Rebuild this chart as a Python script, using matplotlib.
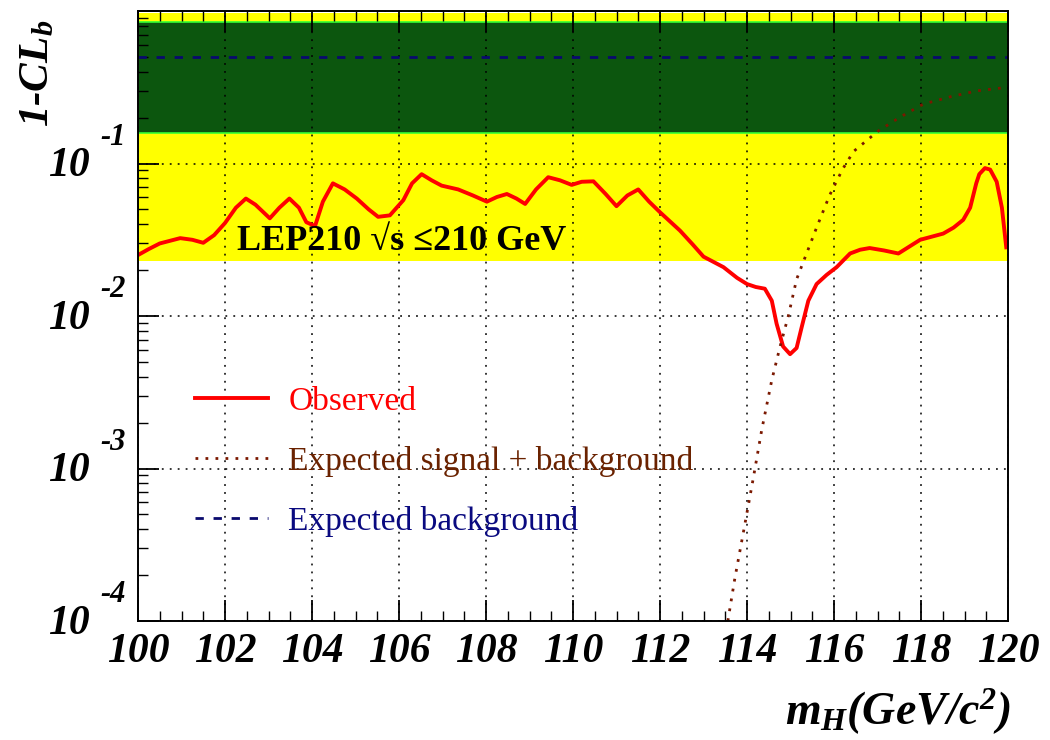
import numpy as np
import matplotlib
matplotlib.use("Agg")
import matplotlib.pyplot as plt
from matplotlib.ticker import MultipleLocator, LogLocator, NullFormatter

plt.rcParams['font.family'] = ['Liberation Serif', 'DejaVu Serif']
plt.rcParams['mathtext.fontset'] = 'custom'
plt.rcParams['mathtext.rm'] = 'Liberation Serif:italic:bold'
plt.rcParams['mathtext.it'] = 'Liberation Serif:italic:bold'
plt.rcParams['mathtext.bf'] = 'Liberation Serif:italic:bold'

# observed 1-CLb
obs_mass = [100.0, 100.25, 100.5, 100.97, 101.25, 101.5, 101.75, 102.0, 102.25, 102.48,
            102.7, 103.03, 103.25, 103.48, 103.7, 103.87, 104.07, 104.25, 104.48, 104.75,
            105.03, 105.3, 105.52, 105.79, 106.1, 106.3, 106.52, 106.75, 106.98, 107.36,
            107.7, 108.02, 108.25, 108.48, 108.7, 108.9, 109.15, 109.43, 109.7, 109.97,
            110.2, 110.47, 110.75, 111.0, 111.25, 111.5, 111.75, 112.0, 112.46, 112.75,
            113.0, 113.46, 113.77, 114.0, 114.2, 114.41, 114.57, 114.68, 114.83, 114.99,
            115.14, 115.26, 115.41, 115.6, 115.83, 116.06, 116.37, 116.6, 116.82, 117.15,
            117.48, 117.98, 118.51, 118.75, 118.97, 119.13, 119.27, 119.34, 119.47, 119.59,
            119.74, 119.86, 119.96]
obs_clb = [0.0251, 0.0275, 0.0299, 0.0324, 0.0316, 0.0302, 0.0339, 0.0407, 0.0513, 0.0589,
           0.0537, 0.0437, 0.0513, 0.0589, 0.0513, 0.0412, 0.0389, 0.0562, 0.0741, 0.0676,
           0.0589, 0.0501, 0.0447, 0.0457, 0.0575, 0.0741, 0.0851, 0.0776, 0.0716, 0.0676,
           0.0617, 0.0562, 0.0603, 0.0631, 0.0589, 0.0543, 0.0676, 0.0813, 0.0776, 0.0724,
           0.0759, 0.0764, 0.0631, 0.0525, 0.0617, 0.0676, 0.0562, 0.0479, 0.0363, 0.0295,
           0.0245, 0.0209, 0.0178, 0.0162, 0.0155, 0.0151, 0.0126, 0.00891, 0.00631, 0.00562,
           0.00617, 0.00851, 0.0126, 0.0162, 0.0186, 0.0209, 0.0257, 0.0272, 0.0279, 0.0269,
           0.0257, 0.0316, 0.0347, 0.0380, 0.0427, 0.0513, 0.0741, 0.0851, 0.0933, 0.0912,
           0.0759, 0.0513, 0.0282]

# expected signal + background
sb_mass = [113.56, 113.72, 113.93, 114.14, 114.34, 114.57, 114.76, 114.95, 115.14, 115.6,
           115.9, 116.2, 116.45, 117.0, 117.5, 118.05, 118.7, 119.3, 120.0]
sb_clb = [1.0e-4, 1.9e-4, 4.0e-4, 8.5e-4, 1.8e-3, 3.8e-3, 6.3e-3, 0.0100, 0.0174, 0.038,
          0.062, 0.092, 0.12, 0.162, 0.20, 0.245, 0.275, 0.30, 0.316]

# expected background
bkg_mass = [100.0, 120.0]
bkg_clb = [0.5, 0.5]

band_1sigma = [0.1587, 0.8413]
band_2sigma = [0.0228, 0.9772]

decades = [-4, -3, -2, -1]

fig = plt.figure(figsize=(10.5, 7.4), dpi=100)
ax = fig.add_axes([138/1050, 1-621/740, 870/1050, 610/740])

ax.axhspan(band_2sigma[0], band_2sigma[1], color='#ffff00', lw=0, zorder=0)
ax.axhspan(band_1sigma[0], band_1sigma[1], facecolor='#0c560e', edgecolor='#33ff33', lw=1.2, zorder=0.5)

ax.plot(obs_mass, obs_clb, color='#ff0000', lw=2.8, solid_joinstyle='round', label='Observed', zorder=3)
ax.plot(sb_mass, sb_clb, color='#7a1800', lw=2.0, ls=(0, (1, 2.6)), label='Expected signal + background', zorder=3)
ax.plot(bkg_mass, bkg_clb, color='#0a0a6e', lw=2.0, ls=(0, (3, 3.5)), label='Expected background', zorder=3)

ax.set_yscale('log')
ax.set_xlim(100, 120)
ax.set_ylim(1e-4, 1)

ax.xaxis.set_major_locator(MultipleLocator(2))
ax.xaxis.set_minor_locator(MultipleLocator(0.5))
ax.yaxis.set_major_locator(LogLocator(base=10, numticks=10))
ax.yaxis.set_minor_locator(LogLocator(base=10, subs=np.arange(2, 10), numticks=20))
ax.yaxis.set_major_formatter(NullFormatter())
ax.yaxis.set_minor_formatter(NullFormatter())

ax.tick_params(which='major', direction='in', length=15, width=1.3, top=True, right=False, color='k')
ax.tick_params(which='minor', direction='in', length=7.5, width=1.0, top=True, right=False, color='k')
ax.tick_params(axis='x', pad=9, labelsize=30)
for lab in ax.get_xticklabels():
    lab.set_fontweight('bold')
    lab.set_fontstyle('italic')

ax.grid(True, which='major', color='k', lw=1.1, ls=(0, (1.2, 4)))
for s in ax.spines.values():
    s.set_linewidth(1.4)
    s.set_zorder(4)

# y tick labels in the ROOT style: 10 with a raised exponent
for e in decades:
    ax.annotate('10', xy=(0, 10.0**e), xycoords=('axes fraction', 'data'),
                xytext=(-35, -2), textcoords='offset points', ha='right', va='center',
                fontsize=30, fontweight='bold', fontstyle='italic')
    ax.annotate('%d' % e, xy=(0, 10.0**e), xycoords=('axes fraction', 'data'),
                xytext=(-27, 19), textcoords='offset points', ha='left', va='center',
                fontsize=22, fontweight='bold', fontstyle='italic')

ax.text(-0.115, 0.985, '1-CL$_b$', transform=ax.transAxes, rotation=90, ha='center', va='top',
        fontsize=31, fontweight='bold', fontstyle='italic')
ax.text(1.003, -0.149, '$m_H$(GeV/c$^2$)', transform=ax.transAxes, ha='right', va='center',
        fontsize=33, fontweight='bold', fontstyle='italic')

ax.text(102.28, 0.027, 'LEP210 \u221as \u2264210 GeV', fontsize=26, fontweight='bold',
        va='baseline', ha='left', zorder=5)

leg = ax.legend(loc='upper left', bbox_to_anchor=(0.0655, 0.385), frameon=False,
                borderaxespad=0, borderpad=0, handlelength=2.2, handletextpad=0.6,
                labelspacing=0.87, fontsize=24,
                labelcolor=['#ff0000', '#6a2200', '#0a0a80'])

fig.savefig('out.png', dpi=100)
